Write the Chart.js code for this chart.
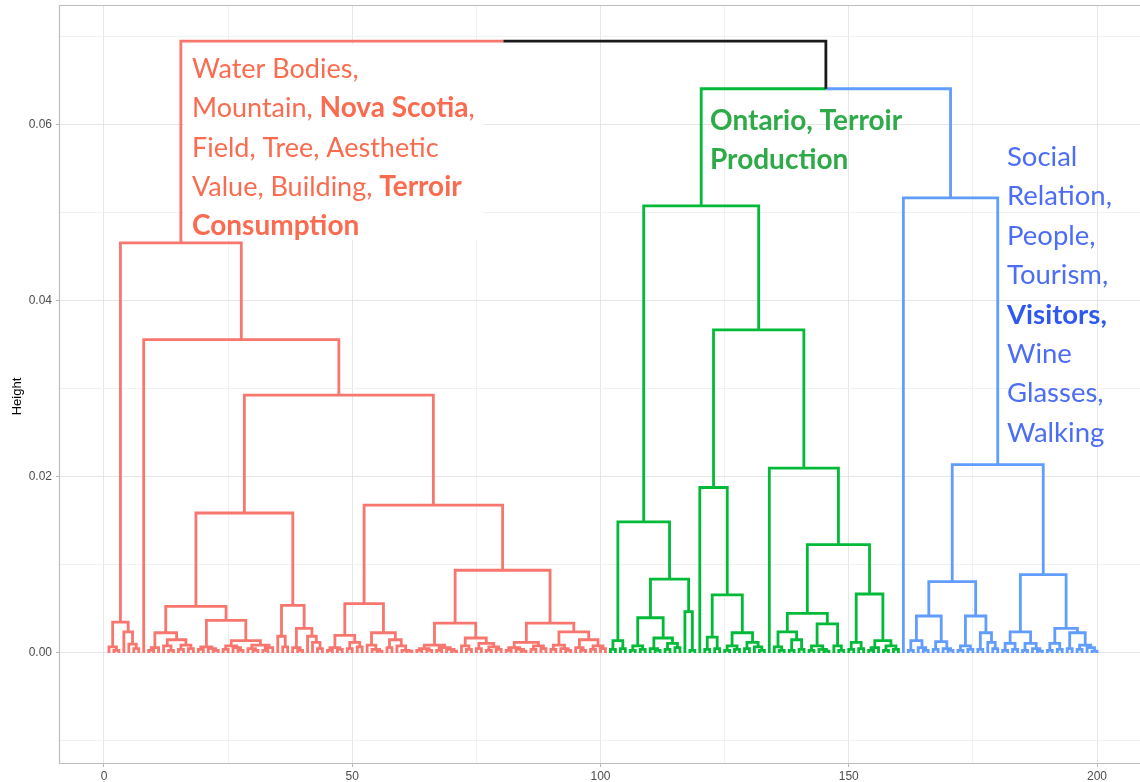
<!DOCTYPE html>
<html><head><meta charset="utf-8">
<script src="https://cdn.jsdelivr.net/npm/chart.js@4.4.1/dist/chart.umd.min.js"></script>
<style>html,body{margin:0;padding:0;background:#fff;overflow:hidden}#wrap{width:1140px;height:782px;position:relative}</style>
</head><body><div id="wrap"><canvas id="c" width="1140" height="782"></canvas></div>
<script>
// ---------------- data ----------------
// Each merge is [height, left, right]; 0 marks a leaf (leaves are numbered left to right).
const clusterColors = ['#F8766D', '#00BA38', '#619CFF'];
const mixedColor = '#1a1a1a';
const rootHeight = 0.0695;
const greenBlueHeight = 0.0641;

const redTree = [0.0466,
  [0.0035, [0.0007, 0, [0.0003, 0, 0]], [0.0024, 0, [0.001, 0, [0.0005, 0, 0]]]],
  [0.0356, 0,
    [0.0293,
      [0.0159,
        [0.0053,
          [0.0023, [0.0006, [0.0003, 0, 0], 0], [0.0015, [0.0008, 0, [0.0003, 0, 0]], [0.0009, [0.0004, 0, 0], [0.0005, 0, 0]]]],
          [0.0037, [0.0007, [0.0004, 0, 0], [0.0005, 0, [0.0003, 0, 0]]],
                   [0.0014, [0.0008, [0.0004, 0, 0], [0.0006, 0, [0.0003, 0, 0]]], [0.0009, [0.0005, 0, [0.0003, 0, 0]], [0.0006, [0.0003, 0, 0], 0]]]]],
        [0.0054, [0.0019, 0, [0.0007, 0, 0]], [0.0028, [0.0006, 0, [0.0003, 0, 0]], [0.0019, 0, [0.0012, 0, [0.0005, 0, 0]]]]]],
      [0.0168,
        [0.0056,
          [0.002, [0.0006, [0.0003, 0, 0], [0.0004, 0, 0]], [0.0012, [0.0005, 0, 0], [0.0007, 0, 0]]],
          [0.0023, [0.0009, 0, [0.0004, 0, [0.0002, 0, 0]]], [0.0015, [0.0006, 0, 0], [0.0008, 0, [0.0003, 0, [0.0002, 0, 0]]]]]],
        [0.0094,
          [0.0034, [0.0009, [0.0005, [0.0003, 0, 0], [0.0003, 0, 0]], [0.0006, [0.0003, 0, 0], [0.0004, 0, [0.0002, 0, 0]]]],
                   [0.0017, [0.0008, 0, [0.0004, 0, 0]], [0.0011, [0.0005, 0, 0], [0.0007, [0.0003, 0, 0], [0.0004, 0, 0]]]]],
          [0.0034, [0.0012, [0.0006, [0.0003, 0, 0], [0.0004, 0, [0.0002, 0, 0]]], [0.0008, [0.0004, 0, 0], [0.0005, 0, 0]]],
                   [0.0024, [0.0009, [0.0004, 0, 0], [0.0005, 0, [0.0003, 0, 0]]], [0.0015, [0.0006, 0, [0.0003, 0, 0]], [0.0008, [0.0004, 0, 0], [0.0005, 0, 0]]]]]]]]]];

const greenTree = [0.0508,
  [0.0149,
    [0.0014, [0.0004, 0, 0], [0.0005, 0, 0]],
    [0.0084,
      [0.004, [0.0008, [0.0003, 0, 0], [0.0004, 0, 0]], [0.0017, [0.0005, 0, [0.0003, 0, 0]], [0.0011, [0.0004, 0, 0], [0.0006, 0, 0]]]],
      [0.0047, 0, [0.0003, 0, 0]]]],
  [0.0367,
    [0.0188, 0,
      [0.0066, [0.0018, [0.0004, 0, 0], [0.0005, 0, 0]],
               [0.0023, [0.0008, [0.0003, 0, 0], [0.0004, 0, 0]], [0.0012, [0.0005, 0, 0], [0.0007, 0, [0.0003, 0, 0]]]]]],
    [0.021, 0,
      [0.0123,
        [0.0045,
          [0.0024, [0.0007, 0, [0.0003, 0, 0]], [0.0015, [0.0003, 0, 0], [0.0004, 0, 0]]],
          [0.0033, [0.0008, [0.0003, 0, 0], [0.0004, 0, [0.0002, 0, 0]]], [0.0008, 0, [0.0003, 0, 0]]]],
        [0.0067, [0.0012, [0.0004, 0, 0], [0.0005, 0, 0]],
                 [0.0014, [0.0006, [0.0003, 0, 0], 0], [0.0008, [0.0003, 0, 0], [0.0004, 0, 0]]]]]]]];

const blueTree = [0.0517, 0,
  [0.0214,
    [0.0081,
      [0.0042, [0.0014, [0.0003, 0, 0], [0.0006, 0, [0.0003, 0, 0]]], [0.0013, [0.0004, 0, 0], [0.0005, 0, [0.0003, 0, 0]]]],
      [0.0042, [0.0008, [0.0003, 0, 0], [0.0004, 0, 0]], [0.0023, [0.0004, 0, 0], [0.0012, 0, [0.0005, 0, 0]]]]],
    [0.0089,
      [0.0024, [0.0011, [0.0003, 0, 0], [0.0004, 0, 0]], [0.0011, [0.0003, 0, 0], [0.0005, 0, [0.0002, 0, 0]]]],
      [0.0028, [0.0011, [0.0003, 0, 0], [0.0004, 0, 0]], [0.0023, [0.0005, 0, 0], [0.0009, [0.0004, 0, 0], [0.0006, 0, [0.0002, 0, 0]]]]]]]];

const xMajorTicks = [0, 50, 100, 150, 200];
const xMinorTicks = [25, 75, 125, 175];
const yMajorTicks = [0, 0.02, 0.04, 0.06];
const yMinorTicks = [-0.01, 0.01, 0.03, 0.05, 0.07];
const xRange = [-8.86, 208.66];
const yRange = [-0.0125, 0.0735];

// annotation texts: [text, bold]
const redNote = [[['Water Bodies,', 0]], [['Mountain, ', 0], ['Nova Scotia', 1], [',', 0]], [['Field, Tree, Aesthetic', 0]], [['Value, Building, ', 0], ['Terroir', 1]], [['Consumption', 1]]];
const greenNote = [[['Ontario, Terroir', 1]], [['Production', 1]]];
const blueNote = [[['Social', 0]], [['Relation,', 0]], [['People,', 0]], [['Tourism,', 0]], [['Visitors,', 1]], [['Wine', 0]], [['Glasses,', 0]], [['Walking', 0]]];

// ---------------- layout of the dendrogram ----------------
let leafNo = 0;
function place(n) {
  if (n === 0) { leafNo++; return { x: leafNo, h: 0, leaf: true }; }
  const L = place(n[1]), R = place(n[2]);
  return { x: (L.x + R.x) / 2, h: n[0], L, R };
}
const GAP = { x: NaN, y: NaN };
function trace(n, out) {
  if (n.leaf) return;
  out.push({ x: n.L.x, y: n.L.h }, { x: n.L.x, y: n.h }, { x: n.R.x, y: n.h }, { x: n.R.x, y: n.R.h }, GAP);
  trace(n.L, out); trace(n.R, out);
}
const red = place(redTree), green = place(greenTree), blue = place(blueTree);
const gbX = (green.x + blue.x) / 2;
const rootX = (red.x + gbX) / 2;
const redPts = [], greenPts = [], bluePts = [], blackPts = [];
trace(red, redPts); trace(green, greenPts); trace(blue, bluePts);
redPts.push({ x: red.x, y: red.h }, { x: red.x, y: rootHeight }, { x: rootX, y: rootHeight }, GAP);
blackPts.push({ x: rootX, y: rootHeight }, { x: gbX, y: rootHeight }, { x: gbX, y: greenBlueHeight }, GAP);
greenPts.push({ x: green.x, y: green.h }, { x: green.x, y: greenBlueHeight }, { x: gbX, y: greenBlueHeight }, GAP);
bluePts.push({ x: gbX, y: greenBlueHeight }, { x: blue.x, y: greenBlueHeight }, { x: blue.x, y: blue.h }, GAP);

function ds(pts, color) {
  return { data: pts, showLine: true, borderColor: color, borderWidth: 2.8, pointRadius: 0, spanGaps: false, tension: 0, borderJoinStyle: 'miter' };
}

const near = (v, arr) => arr.some(a => Math.abs(a - v) < 1e-9);
const tickFont = { family: "'Liberation Sans', Arial, sans-serif", size: 12 };

function drawNote(ctx, lines, x, y0, step, size, boldSize, colorReg, colorBold) {
  ctx.save();
  ctx.textBaseline = 'alphabetic';
  ctx.textAlign = 'left';
  lines.forEach((runs, i) => {
    let cx = x;
    const y = y0 + i * step;
    runs.forEach(([t, b]) => {
      ctx.font = (b ? 'bold ' + boldSize : size) + "px Lato, 'Open Sans', sans-serif";
      ctx.fillStyle = b ? colorBold : colorReg;
      ctx.fillText(t, cx, y);
      cx += ctx.measureText(t).width;
    });
  });
  ctx.restore();
}

const decor = {
  id: 'decor',
  beforeDatasetsDraw(chart) {
    const ctx = chart.ctx;
    ctx.save();
    ctx.fillStyle = '#ffffff';
    ctx.fillRect(184, 44, 300, 196);
    ctx.restore();
  },
  afterDraw(chart) {
    const ctx = chart.ctx, a = chart.chartArea;
    ctx.save();
    ctx.strokeStyle = '#BDBDBD';
    ctx.lineWidth = 1.2;
    ctx.beginPath();
    ctx.moveTo(1140, a.top - 0.5); ctx.lineTo(a.left - 0.5, a.top - 0.5);
    ctx.lineTo(a.left - 0.5, a.bottom + 0.5); ctx.lineTo(1140, a.bottom + 0.5);
    ctx.stroke();
    ctx.translate(17, (a.top + a.bottom) / 2 + 12);
    ctx.rotate(-Math.PI / 2);
    ctx.fillStyle = '#000';
    ctx.font = "13px 'Liberation Sans', Arial, sans-serif";
    ctx.textAlign = 'center';
    ctx.textBaseline = 'middle';
    ctx.fillText('Height', 0, 0);
    ctx.restore();
    drawNote(ctx, redNote, 192, 78, 39.3, 27, 28, '#FA6B4F', '#FA6B4F');
    drawNote(ctx, greenNote, 710, 130, 38.5, 28, 28, '#2EAA49', '#2EAA49');
    drawNote(ctx, blueNote, 1007, 166, 39.4, 27.5, 27.5, '#4C6DF5', '#2F58F2');
  }
};

new Chart(document.getElementById('c'), {
  type: 'scatter',
  data: { datasets: [ds(blackPts, mixedColor), ds(redPts, clusterColors[0]), ds(greenPts, clusterColors[1]), ds(bluePts, clusterColors[2])] },
  options: {
    responsive: false, animation: false, devicePixelRatio: 1,
    layout: { autoPadding: false, padding: { top: 6, right: 0, left: 0, bottom: 0 } },
    plugins: { legend: { display: false }, tooltip: { enabled: false } },
    scales: {
      x: {
        type: 'linear', min: xRange[0], max: xRange[1],
        afterBuildTicks: ax => { ax.ticks = xMajorTicks.concat(xMinorTicks).sort((a, b) => a - b).map(v => ({ value: v })); },
        afterFit: ax => { ax.height = 19; ax.paddingLeft = 0; ax.paddingRight = 0; },
        border: { display: false },
        grid: {
          color: c => near(c.tick.value, xMajorTicks) ? '#E6E6E6' : '#F1F1F1',
          lineWidth: 1, tickLength: 4,
          tickColor: c => near(c.tick.value, xMajorTicks) ? '#B8B8B8' : 'rgba(0,0,0,0)'
        },
        ticks: { autoSkip: false, maxRotation: 0, padding: 2, color: '#4D4D4D', font: tickFont,
          callback: v => near(v, xMajorTicks) ? String(v) : '' }
      },
      y: {
        type: 'linear', min: yRange[0], max: yRange[1],
        afterBuildTicks: ax => { ax.ticks = yMinorTicks.concat(yMajorTicks).sort((a, b) => a - b).map(v => ({ value: v })); },
        afterFit: ax => { ax.width = 60; ax.paddingTop = 0; ax.paddingBottom = 0; },
        border: { display: false },
        grid: {
          color: c => near(c.tick.value, yMajorTicks) ? '#E6E6E6' : '#F1F1F1',
          lineWidth: 1, tickLength: 4,
          tickColor: c => near(c.tick.value, yMajorTicks) ? '#B8B8B8' : 'rgba(0,0,0,0)'
        },
        ticks: { autoSkip: false, padding: 4, color: '#4D4D4D', font: tickFont,
          callback: v => near(v, yMajorTicks) ? v.toFixed(2) : '' }
      }
    }
  },
  plugins: [decor]
});
</script></body></html>
